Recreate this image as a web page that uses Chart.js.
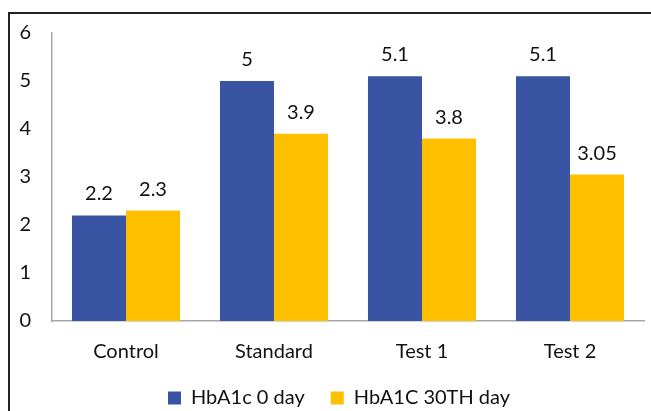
<!DOCTYPE html>
<html>
<head>
<meta charset="utf-8">
<script src="https://cdn.jsdelivr.net/npm/chart.js@4.4.0/dist/chart.umd.min.js"></script>
<style>
  html, body { margin: 0; padding: 0; background: #fff; }
  #frame { position: absolute; left: 8px; top: 12px; width: 700px; height: 500px;
           border-left: 2px solid #222; border-top: 2px solid #222; }
  #wrap { position: absolute; left: 0; top: 0; width: 651px; height: 411px; }
</style>
</head>
<body>
<div id="frame"></div>
<div id="wrap"><canvas id="barchart" width="651" height="411"></canvas></div>
<script>
const categories = ['Control', 'Standard', 'Test 1', 'Test 2'];
const day0Values = [2.2, 5, 5.1, 5.1];
const day30Values = [2.3, 3.9, 3.8, 3.05];
const yTicks = [0, 1, 2, 3, 4, 5, 6];

const FONT = 'Lato, "Open Sans", sans-serif';

// values above each bar
const valueLabels = {
  id: 'valueLabels',
  afterDatasetsDraw(chart) {
    const ctx = chart.ctx;
    ctx.save();
    ctx.font = '20px ' + FONT;
    ctx.fillStyle = '#111';
    ctx.textAlign = 'center';
    ctx.textBaseline = 'alphabetic';
    chart.data.datasets.forEach((ds, i) => {
      chart.getDatasetMeta(i).data.forEach((bar, j) => {
        ctx.fillText(String(ds.data[j]), bar.x, bar.y - 15);
      });
    });
    ctx.restore();
  }
};

// legend sits a bit right of the canvas centre in the original
const legendShift = {
  id: 'legendShift',
  afterLayout(chart) {
    if (chart.legend) chart.legend.left += 34;
  }
};

const ctx = document.getElementById('barchart').getContext('2d');
const barchart = new Chart(ctx, {
  type: 'bar',
  data: {
    labels: categories,
    datasets: [
      {
        label: 'HbA1c 0 day',
        data: day0Values,
        backgroundColor: '#3A54A4'
      },
      {
        label: 'HbA1C 30TH day',
        data: day30Values,
        backgroundColor: '#FFC000'
      }
    ]
  },
  options: {
    responsive: false,
    animation: false,
    layout: {
      padding: { top: 31, right: 7, left: 0, bottom: -7 }
    },
    datasets: {
      bar: { categoryPercentage: 0.73, barPercentage: 1 }
    },
    plugins: {
      legend: {
        position: 'bottom',
        labels: {
          boxWidth: 13,
          boxHeight: 13,
          padding: 26,
          color: '#111',
          font: { family: FONT, size: 20 }
        }
      },
      tooltip: { enabled: false }
    },
    scales: {
      x: {
        grid: { display: false, drawTicks: false },
        border: { color: '#A6A6A6', width: 1.5 },
        ticks: { color: '#111', padding: 19, font: { family: FONT, size: 20 } },
        afterFit(scale) { scale.height = 41; }
      },
      y: {
        min: 0,
        max: 6,
        afterBuildTicks(scale) { scale.ticks = yTicks.map(v => ({ value: v })); },
        grid: { display: false, drawTicks: false },
        border: { color: '#A6A6A6', width: 1.5 },
        ticks: { color: '#111', padding: 21, font: { family: FONT, size: 20 } },
        afterFit(scale) { scale.width = 52; }
      }
    }
  },
  plugins: [valueLabels, legendShift]
});
</script>
</body>
</html>
